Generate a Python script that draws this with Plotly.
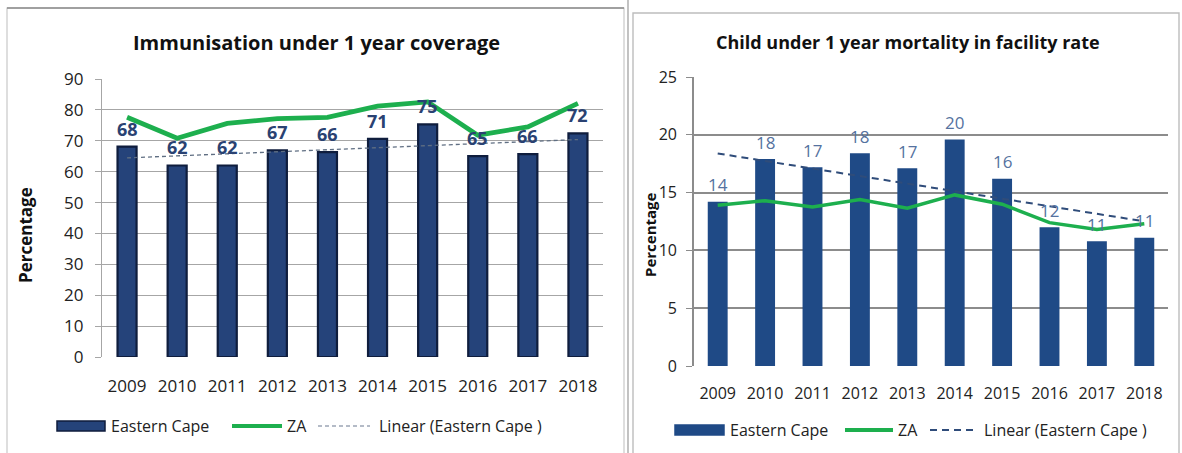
import numpy as np
import plotly.graph_objects as go

# ---- data -------------------------------------------------------------
years = ["2009", "2010", "2011", "2012", "2013", "2014", "2015", "2016", "2017", "2018"]

# Immunisation under 1 year coverage (%)
imm_ec = [68.1, 62.0, 62.0, 66.9, 66.3, 70.6, 75.3, 65.0, 65.7, 72.4]
imm_za = [77.6, 70.8, 75.6, 77.2, 77.6, 81.2, 82.6, 71.8, 74.5, 82.1]

# Child under 1 year mortality in facility rate (%)
mort_ec = [14.2, 17.9, 17.2, 18.4, 17.1, 19.6, 16.2, 12.0, 10.8, 11.1]
mort_za = [13.9, 14.3, 13.75, 14.4, 13.65, 14.8, 14.0, 12.4, 11.8, 12.3]

imm_ticks = [0, 10, 20, 30, 40, 50, 60, 70, 80, 90]
mort_ticks = [0, 5, 10, 15, 20, 25]

legend_names = ["Eastern Cape", "ZA", "Linear (Eastern Cape )"]


# ---- helpers ----------------------------------------------------------
def linear_trend(values):
    x = np.arange(len(values))
    slope, intercept = np.polyfit(x, values, 1)
    return list(slope * x + intercept)


W, H = 1182, 453
FONT = "'Open Sans', sans-serif"
GREEN = "#1DAF4E"
NAVY_L = "#25437A"
NAVY_L_EDGE = "#0F1D3D"
NAVY_R = "#1F4A86"


def px(x):
    return x / W


def py(y):
    return 1 - y / H


fig = go.Figure()

# ---- left chart: immunisation ----------------------------------------
fig.add_trace(go.Bar(
    x=years, y=imm_ec, name=legend_names[0],
    marker=dict(color=NAVY_L, line=dict(color=NAVY_L_EDGE, width=2.2)),
    width=0.38, xaxis="x", yaxis="y",
))
fig.add_trace(go.Scatter(
    x=years, y=imm_za, name=legend_names[1], mode="lines",
    line=dict(color=GREEN, width=4.8), xaxis="x", yaxis="y",
))
fig.add_trace(go.Scatter(
    x=years, y=linear_trend(imm_ec), name=legend_names[2], mode="lines",
    line=dict(color="#5F6E82", width=1.3, dash="4px,3px"), xaxis="x", yaxis="y",
))

# ---- right chart: mortality ------------------------------------------
fig.add_trace(go.Bar(
    x=years, y=mort_ec, name=legend_names[0],
    marker=dict(color=NAVY_R, line=dict(width=0)),
    width=0.42, xaxis="x2", yaxis="y2",
))
fig.add_trace(go.Scatter(
    x=years, y=mort_za, name=legend_names[1], mode="lines",
    line=dict(color=GREEN, width=3.5), xaxis="x2", yaxis="y2",
))
fig.add_trace(go.Scatter(
    x=years, y=linear_trend(mort_ec), name=legend_names[2], mode="lines",
    line=dict(color="#2F4C7A", width=2, dash="7px,5px"), xaxis="x2", yaxis="y2",
))

# value labels above the Eastern Cape bars (x given as category index)
for i, v in enumerate(imm_ec):
    fig.add_annotation(x=i, y=v, xref="x", yref="y", text=f"<b>{v:.0f}</b>",
                       showarrow=False, yshift=18, xanchor="center", yanchor="middle",
                       font=dict(family=FONT, size=18, color="#2A4272"))
for i, v in enumerate(mort_ec):
    fig.add_annotation(x=i, y=v, xref="x2", yref="y2", text=f"{v:.0f}",
                       showarrow=False, yshift=17, xanchor="center", yanchor="middle",
                       font=dict(family=FONT, size=17, color="#5572A0"))

axis_font = dict(family=FONT, size=17, color="#222222")
n = len(years)

fig.update_layout(
    width=W, height=H, autosize=False,
    margin=dict(l=0, r=0, t=0, b=0, pad=0, autoexpand=False),
    paper_bgcolor="white", plot_bgcolor="white",
    font=dict(family=FONT, color="#222222"),
    showlegend=False,
    xaxis=dict(type="category", range=[-0.5, n - 0.5], domain=[px(102), px(603)], anchor="y",
               tickfont=axis_font, automargin=False,
               showline=False, ticks="", ticklabelstandoff=17, fixedrange=True),
    yaxis=dict(domain=[py(357), py(79)], anchor="x", range=[0, 90], automargin=False,
               tickvals=imm_ticks, tickfont=axis_font,
               showgrid=True, gridcolor="#A6A6A6", gridwidth=1.3,
               showline=True, linecolor="#A6A6A6", linewidth=1.3,
               ticks="outside", ticklen=6, tickcolor="#A6A6A6",
               zeroline=False, ticklabelstandoff=8),
    xaxis2=dict(type="category", range=[-0.5, n - 0.5], domain=[px(694), px(1168)], anchor="y2",
                tickfont=dict(family=FONT, size=16, color="#222222"), automargin=False,
                showline=False, ticks="", ticklabelstandoff=16, fixedrange=True),
    yaxis2=dict(domain=[py(366), py(77)], anchor="x2", range=[0, 25], automargin=False,
                tickvals=mort_ticks, tickfont=dict(family=FONT, size=16, color="#222222"),
                showgrid=True, gridcolor="#8C8C8C", gridwidth=1.6,
                showline=True, linecolor="#8C8C8C", linewidth=1.6,
                ticks="outside", ticklen=6, tickcolor="#8C8C8C",
                zeroline=False, ticklabelstandoff=6),
)

# panel titles and y-axis titles
fig.add_annotation(text="<b>Immunisation under 1 year coverage</b>", x=px(316), y=py(42),
                   xref="paper", yref="paper", showarrow=False,
                   xanchor="center", yanchor="middle",
                   font=dict(family=FONT, size=20, color="#111111"))
fig.add_annotation(text="<b>Child under 1 year mortality in facility rate</b>", x=px(908), y=py(42),
                   xref="paper", yref="paper", showarrow=False,
                   xanchor="center", yanchor="middle",
                   font=dict(family=FONT, size=18, color="#111111"))
fig.add_annotation(text="<b>Percentage</b>", x=px(25), y=py(235), textangle=-90,
                   xref="paper", yref="paper", showarrow=False,
                   xanchor="center", yanchor="middle",
                   font=dict(family=FONT, size=17, color="#111111"))
fig.add_annotation(text="<b>Percentage</b>", x=px(650), y=py(234), textangle=-90,
                   xref="paper", yref="paper", showarrow=False,
                   xanchor="center", yanchor="middle",
                   font=dict(family=FONT, size=15, color="#111111"))


# ---- legends (drawn with shapes + text so the keys are wide) ----------
def add_legend(yc, bar_x, za_x, lin_x, bar_color, edge, lin_style):
    fig.add_shape(type="rect", xref="paper", yref="paper",
                  x0=px(bar_x[0]), x1=px(bar_x[1]), y0=py(yc + 5), y1=py(yc - 5),
                  fillcolor=bar_color, line=dict(color=edge, width=1.5))
    fig.add_shape(type="line", xref="paper", yref="paper",
                  x0=px(za_x[0]), x1=px(za_x[1]), y0=py(yc), y1=py(yc),
                  line=dict(color=GREEN, width=4))
    fig.add_shape(type="line", xref="paper", yref="paper",
                  x0=px(lin_x[0]), x1=px(lin_x[1]), y0=py(yc), y1=py(yc),
                  line=lin_style)
    for name, x in zip(legend_names, [bar_x[1] + 4, za_x[1] + 3, lin_x[1] + 7]):
        fig.add_annotation(text=name, x=px(x), y=py(yc), xref="paper", yref="paper",
                           showarrow=False, xanchor="left", yanchor="middle",
                           font=dict(family=FONT, size=16, color="#222222"))


add_legend(426, (57, 105), (232, 282), (318, 370), NAVY_L, NAVY_L_EDGE,
           dict(color="#6A7890", width=1.2, dash="4px,3px"))
add_legend(430, (675, 724), (845, 893), (930, 975), NAVY_R, NAVY_R,
           dict(color="#2F4C7A", width=2, dash="7px,5px"))

# chart frames
fig.add_shape(type="rect", xref="paper", yref="paper",
              x0=px(7), x1=px(624), y0=py(460), y1=py(8),
              line=dict(color="#C8C8C8", width=1.2), layer="below")
fig.add_shape(type="line", xref="paper", yref="paper",
              x0=px(7), x1=px(624), y0=py(8), y1=py(8),
              line=dict(color="#8A8A8A", width=1.6))
fig.add_shape(type="rect", xref="paper", yref="paper",
              x0=px(633), x1=px(1179), y0=py(460), y1=py(13),
              line=dict(color="#BDBDBD", width=1.4), layer="below")
fig.add_shape(type="line", xref="paper", yref="paper",
              x0=px(628), x1=px(628), y0=py(460), y1=py(0),
              line=dict(color="#9A9A9A", width=1.2))

fig.write_html(
    "out.html",
    config={"responsive": False, "displayModeBar": False},
    post_script="document.body.style.margin='0';document.body.style.overflow='hidden';",
)
